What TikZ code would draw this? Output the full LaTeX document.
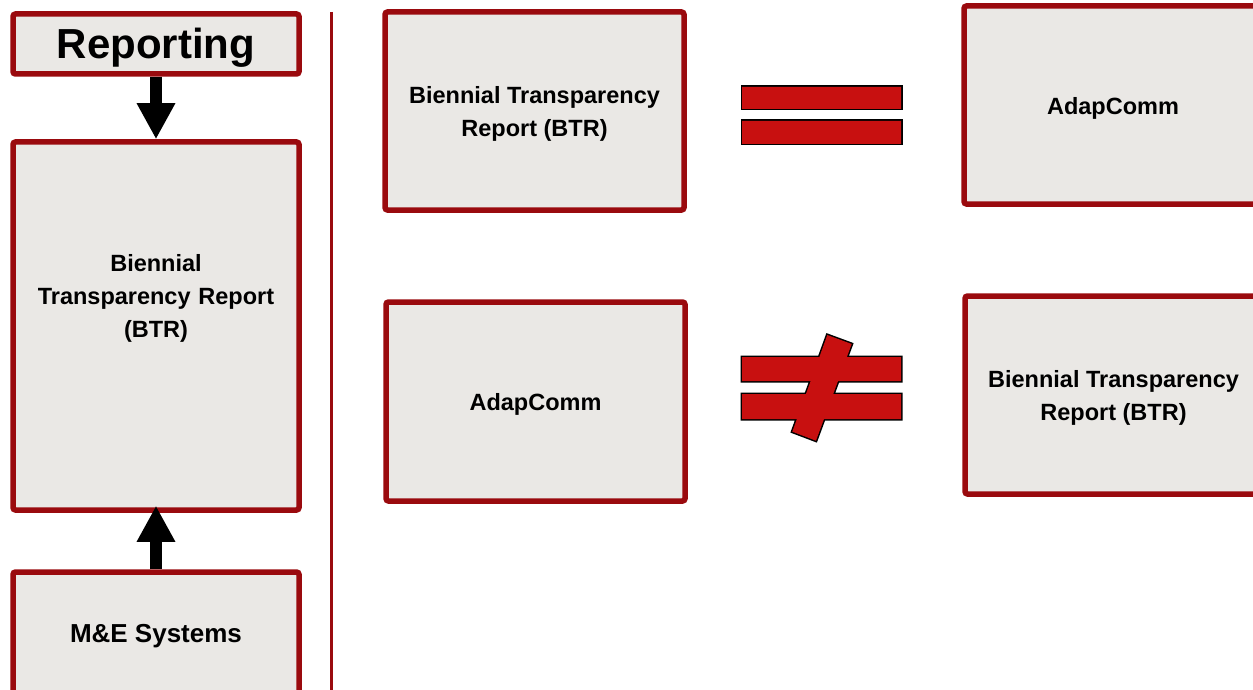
\documentclass[tikz,border=0pt]{standalone}
\usepackage{fontspec}
\setmainfont{Liberation Sans}
\usetikzlibrary{arrows.meta}
\definecolor{bord}{HTML}{9A0A0E}
\definecolor{boxfill}{HTML}{EAE8E5}
\definecolor{barred}{HTML}{C81010}
\begin{document}
\begin{tikzpicture}[x=1pt,y=-1pt,
  box/.style={draw=bord, line width=5.5pt, fill=boxfill, rounded corners=2.5pt,
    inner sep=0pt},
  txt/.style={inner sep=0pt, align=center, yshift=-3pt,
    font=\bfseries\fontsize{23.5}{33}\selectfont},
  bigarrow/.style={line width=12pt, -{Triangle[width=36pt,length=36pt]}},
  baroutline/.style={draw=black, line width=3pt},
  barfill/.style={fill=barred}]
\useasboundingbox (0,0) rectangle (1253,690);
\clip (0,0) rectangle (1253,690);
% left column
\node[box, minimum width=286pt, minimum height=60pt] (rep) at (156,44) {};
\node[txt, yshift=-1pt, font=\bfseries\fontsize{42}{48}\selectfont] (rept) at (rep) {Reporting};
\node[box, minimum width=286pt, minimum height=368pt] (btrl) at (156,326) {};
\node[txt, text width=270pt, yshift=1pt] (btrlt) at (156,296) {Biennial\\Transparency Report\\(BTR)};
\node[box, minimum width=286pt, minimum height=122pt] (me) at (156,633) {};
\node[txt, font=\bfseries\fontsize{26}{30}\selectfont] (met) at (me) {M\&E Systems};
\draw[bigarrow] (rep.south) -- (btrl.north);
\draw[bigarrow, shorten >=-7pt] (me.north) -- (btrl.south);
% separator
\coordinate (vtop) at (331,12);
\coordinate (vbot) at (331,692);
\draw[bord, line width=3pt] (vtop) -- (vbot);
% right part
\node[box, minimum width=299pt, minimum height=198pt] (btr1) at (534.5,111) {};
\node[txt] (btr1t) at (btr1) {Biennial Transparency\\Report (BTR)};
\node[box, minimum width=298pt, minimum height=198pt] (ad1) at (1113,105) {};
\node[txt] (ad1t) at (ad1) {AdapComm};
\node[box, minimum width=299pt, minimum height=199pt] (ad2) at (535.5,401.5) {};
\node[txt] (ad2t) at (ad2) {AdapComm};
\node[box, minimum width=297pt, minimum height=198pt] (btr2) at (1113.5,395) {};
\node[txt] (btr2t) at (btr2) {Biennial Transparency\\Report (BTR)};
% equals sign
\path[baroutline] (742,87) rectangle (901,109) (742,121) rectangle (901,144);
\path[barfill] (742,87) rectangle (901,109) (742,121) rectangle (901,144);
% not-equal sign
\path[baroutline] (742,357) rectangle (901,381) (742,394) rectangle (901,419)
  (827.3,335) -- (851.7,344) -- (816,440.7) -- (792.3,431.7) -- cycle;
\path[barfill] (742,357) rectangle (901,381) (742,394) rectangle (901,419);
\path[barfill] (827.3,335) -- (851.7,344) -- (816,440.7) -- (792.3,431.7) -- cycle;
\end{tikzpicture}
\end{document}
